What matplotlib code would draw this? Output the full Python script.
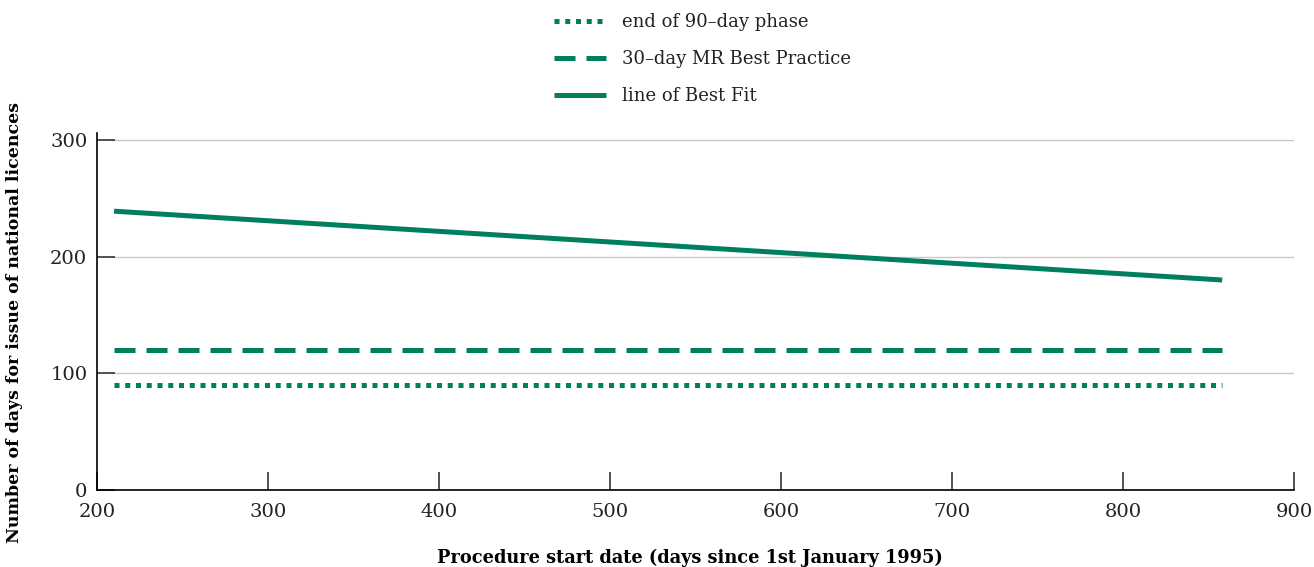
import matplotlib.pyplot as plt
import numpy as np

# values
x_start, x_end = 210, 858
best_fit = [239, 180]
mr_best_practice = [120, 120]
phase_90_end = [90, 90]

labels = ['end of 90\u2013day phase', '30\u2013day MR Best Practice', 'line of Best Fit']
green = '#007f5f'

plt.rcParams['font.family'] = ['DejaVu Serif']

fig = plt.figure(figsize=(13.14, 5.67), dpi=100)
ax = fig.add_axes([0.0738, 0.1358, 0.9110, 0.6296])

xs = [x_start, x_end]
l1, = ax.plot(xs, phase_90_end, color=green, lw=3.6, linestyle=(0, (1.0, 1.15)),
              dash_capstyle='butt')
l2, = ax.plot(xs, mr_best_practice, color=green, lw=3.6, linestyle=(0, (4.2, 2.2)),
              dash_capstyle='butt')
l3, = ax.plot(xs, best_fit, color=green, lw=3.6, solid_capstyle='butt')

ax.set_xlim(200, 900)
ax.set_ylim(0, 306)
ax.set_xticks(np.arange(200, 901, 100))
ax.set_yticks([0, 100, 200, 300])
for y in [100, 200, 300]:
    ax.axhline(y, xmin=0.012, color='#c8c8c8', lw=1, zorder=0)

ax.spines['top'].set_visible(False)
ax.spines['right'].set_visible(False)
ax.spines['left'].set_linewidth(1.2)
ax.spines['bottom'].set_linewidth(1.2)
ax.tick_params(axis='both', direction='in', length=13, width=1.2, color='#333333',
               labelsize=14, labelcolor='#222222')
ax.tick_params(axis='x', pad=9)
ax.tick_params(axis='y', pad=7)
ax.spines['bottom'].set_bounds(200, 900)

ax.set_xlabel('Procedure start date (days since 1st January 1995)', fontsize=12.8,
              fontweight='bold')
ax.set_ylabel('Number of days for issue of national licences', fontsize=12.5,
              fontweight='bold')
ax.yaxis.set_label_coords(-0.062, 0.47)
ax.xaxis.set_label_coords(0.495, -0.165)

fig.legend([l1, l2, l3], labels, loc='upper left', bbox_to_anchor=(0.409, 1.005),
           frameon=False, fontsize=13, handlelength=2.9, handletextpad=0.9,
           labelspacing=1.05, labelcolor='#222222')

fig.savefig('out.png', dpi=100)
